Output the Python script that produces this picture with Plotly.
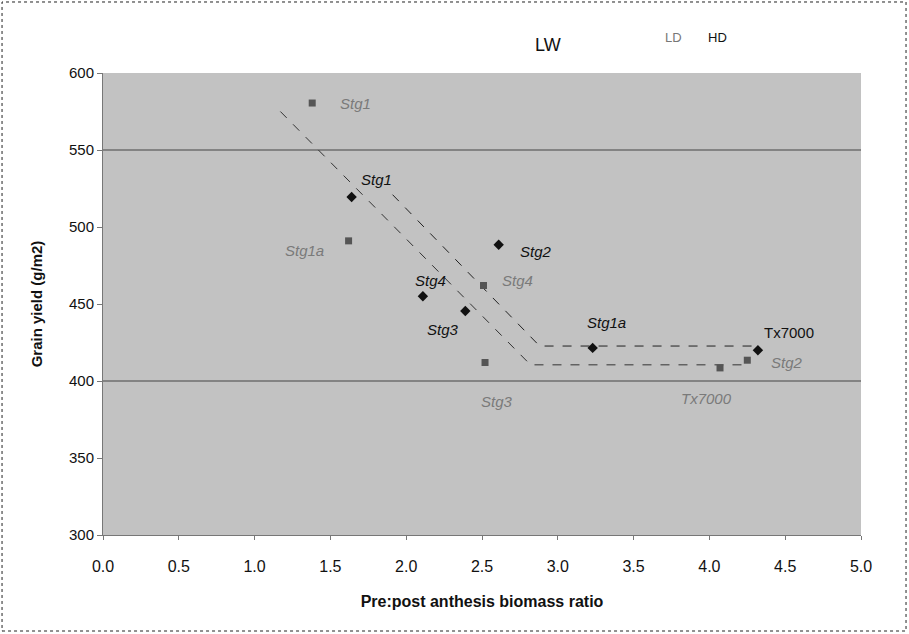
import plotly.graph_objects as go

# --- Data ---
genotypes_ld = ["Stg1", "Stg1a", "Stg4", "Stg3", "Tx7000", "Stg2"]
ratio_ld = [1.38, 1.62, 2.51, 2.52, 4.07, 4.25]
yield_ld = [580.5, 491, 462, 412, 408.5, 413.5]

genotypes_hd = ["Stg1", "Stg2", "Stg4", "Stg3", "Stg1a", "Tx7000"]
ratio_hd = [1.64, 2.61, 2.11, 2.39, 3.23, 4.32]
yield_hd = [519.5, 488.5, 455, 445.5, 421.5, 420]

# broken-stick fits (dashed)
fit_ld_x = [1.17, 2.82, 4.23]
fit_ld_y = [575, 410.5, 410.5]
fit_hd_x = [1.91, 2.88, 4.31]
fit_hd_y = [521, 422.7, 422.7]

# label offsets (pixels) for each point
shift_ld = [(43, 0), (-44, -10), (34, 5), (12, -39), (-14, -31), (40, -2)]
shift_hd = [(25, 17), (37, -7), (8, 16), (-22, -19), (14, 25), (31, 18)]

LD_COL = "#7a7a7a"
HD_COL = "#111111"

fig = go.Figure()

fig.add_trace(go.Scatter(x=fit_ld_x, y=fit_ld_y, mode="lines",
                         line=dict(color="#333333", width=1, dash="dash"),
                         showlegend=False, hoverinfo="skip"))
fig.add_trace(go.Scatter(x=fit_hd_x, y=fit_hd_y, mode="lines",
                         line=dict(color="#222222", width=1, dash="dash"),
                         showlegend=False, hoverinfo="skip"))

fig.add_trace(go.Scatter(x=ratio_ld, y=yield_ld, mode="markers", name="LD",
                         marker=dict(symbol="square", size=7, color="#555555"),
                         text=genotypes_ld, showlegend=False))
fig.add_trace(go.Scatter(x=ratio_hd, y=yield_hd, mode="markers", name="HD",
                         marker=dict(symbol="diamond", size=8, color=HD_COL),
                         text=genotypes_hd, showlegend=False))

label_font = "Liberation Sans, Arial, sans-serif"
for g, x, y, (dx, dy) in zip(genotypes_ld, ratio_ld, yield_ld, shift_ld):
    fig.add_annotation(x=x, y=y, text=f"<i>{g}</i>", showarrow=False,
                       xshift=dx, yshift=dy,
                       font=dict(family=label_font, size=15, color=LD_COL))
for g, x, y, (dx, dy) in zip(genotypes_hd, ratio_hd, yield_hd, shift_hd):
    txt = g if g == "Tx7000" else f"<i>{g}</i>"
    fig.add_annotation(x=x, y=y, text=txt, showarrow=False,
                       xshift=dx, yshift=dy,
                       font=dict(family=label_font, size=15, color=HD_COL))

# legend text
fig.add_annotation(xref="paper", yref="paper", x=0.587, y=1.061, text="LW",
                   showarrow=False, yanchor="middle", xanchor="center",
                   font=dict(family=label_font, size=18, color="#111"))
fig.add_annotation(xref="paper", yref="paper", x=0.753, y=1.076, text="LD",
                   showarrow=False, yanchor="middle", xanchor="center",
                   font=dict(family=label_font, size=13, color="#777"))
fig.add_annotation(xref="paper", yref="paper", x=0.811, y=1.076, text="HD",
                   showarrow=False, yanchor="middle", xanchor="center",
                   font=dict(family=label_font, size=13, color="#111"))

# visible gridlines
for gy in [550, 400]:
    fig.add_hline(y=gy, line=dict(color="#6e6e6e", width=1.5), layer="below")

# dotted outer frame
fig.add_shape(type="rect", xref="paper", yref="paper",
              x0=-0.1332, x1=1.0594, y0=-0.2078, y1=1.1537,
              line=dict(color="#222", width=1, dash="dot"))

fig.update_layout(
    width=909, height=634,
    margin=dict(l=103, r=48, t=73, b=99),
    paper_bgcolor="white",
    plot_bgcolor="#c2c2c2",
    font=dict(family=label_font, size=15, color="#111"),
    showlegend=False,
)
fig.update_xaxes(
    range=[0, 5], dtick=0.5, tickformat=".1f",
    showgrid=False, zeroline=False,
    showline=True, linecolor="#777", linewidth=1,
    ticks="outside", ticklen=4, tickcolor="#777",
    ticklabelstandoff=13,
    tickfont=dict(family="Liberation Sans Narrow, Arial Narrow, Liberation Sans", size=16),
    title=dict(text="<b>Pre:post anthesis biomass ratio</b>", standoff=21,
               font=dict(family="Liberation Sans Narrow, Arial Narrow, Liberation Sans", size=16)),
)
fig.update_yaxes(
    range=[300, 600], dtick=50,
    showgrid=False, zeroline=False,
    showline=True, linecolor="#777", linewidth=1,
    ticks="outside", ticklen=5, tickcolor="#777",
    tickfont=dict(size=15),
    title=dict(text="<b>Grain yield (g/m2)</b>", standoff=22, font=dict(size=15)),
)

fig.write_html("out.html", config={"displayModeBar": False},
               post_script="document.body.style.margin='0';")
